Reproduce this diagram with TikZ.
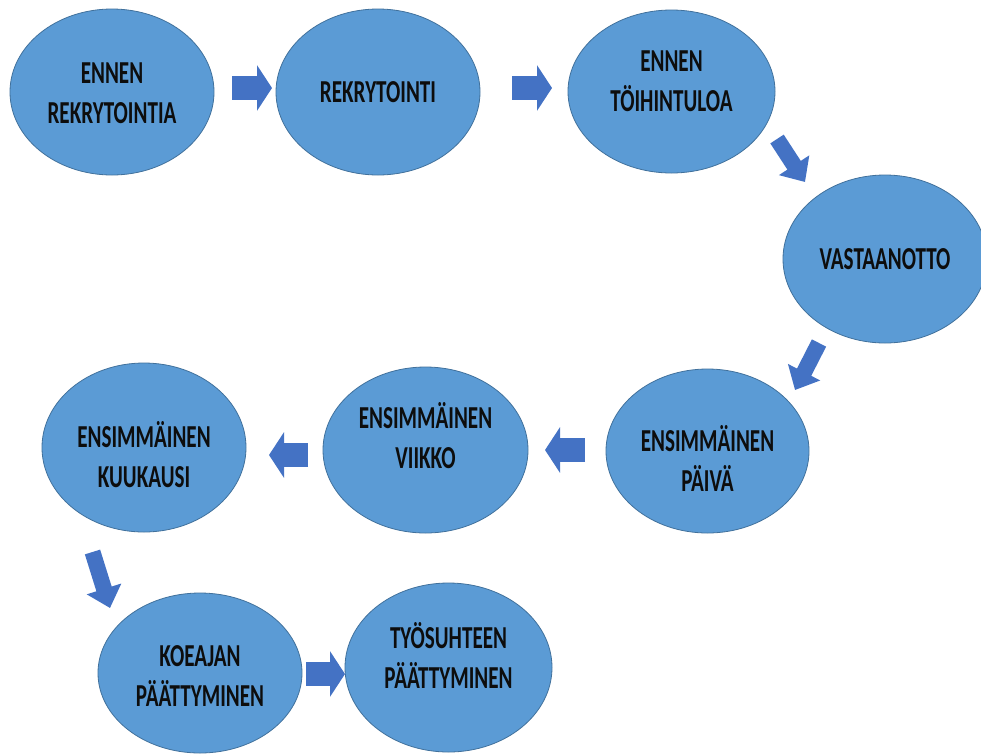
\documentclass[tikz,border=0pt]{standalone}
\usepackage{fontspec}
\newfontfamily\lblfont{Carlito}[FakeStretch=0.66]
\usetikzlibrary{shapes.geometric,arrows.meta}
\definecolor{bubfill}{HTML}{5B9BD5}
\definecolor{bubline}{HTML}{41719C}
\definecolor{arrfill}{HTML}{4472C4}
\begin{document}
\begin{tikzpicture}[x=1pt,y=-1pt,
  bub/.style={ellipse, draw=bubline, line width=0.8pt, fill=bubfill, inner sep=0pt},
  lbl/.style={font=\lblfont\bfseries\fontsize{32}{40}\selectfont, align=center, text=black!95, inner sep=0pt},
  blk/.style={draw=arrfill, line width=24pt, -{Triangle[length=15pt,width=45pt]}},
  blkd/.style={draw=arrfill, line width=16pt, -{Triangle[length=20pt,width=35pt]}}]
\fill[white] (0,0) rectangle (981,753);
\useasboundingbox (0,0) rectangle (981,753);
% ellipses
\node[bub, minimum width=204pt, minimum height=166pt] (e1) at (112,92) {};
\node[bub, minimum width=204pt, minimum height=166pt] (e2) at (378,92) {};
\node[bub, minimum width=207pt, minimum height=163pt] (e3) at (671.5,91.5) {};
\node[bub, minimum width=204pt, minimum height=168pt] (e4) at (885,259) {};
\node[bub, minimum width=203pt, minimum height=164pt] (e5) at (707.5,451) {};
\node[bub, minimum width=205pt, minimum height=166pt] (e6) at (425.5,450) {};
\node[bub, minimum width=204pt, minimum height=169pt] (e7) at (144,447.5) {};
\node[bub, minimum width=204pt, minimum height=160pt] (e8) at (200,673) {};
\node[bub, minimum width=207pt, minimum height=169pt] (e9) at (448.5,667.5) {};
% labels
\node[lbl] (t1) at ([yshift=-1pt]e1) {ENNEN\\REKRYTOINTIA};
\node[lbl] (t2) at (e2) {REKRYTOINTI};
\node[lbl] (t3) at ([yshift=10pt]e3) {ENNEN\\TÖIHINTULOA};
\node[lbl] (t4) at (e4) {VASTAANOTTO};
\node[lbl] (t5) at ([yshift=-7pt]e5) {ENSIMMÄINEN\\PÄIVÄ};
\node[lbl] (t6) at ([yshift=14pt]e6) {ENSIMMÄINEN\\VIIKKO};
\node[lbl] (t7) at ([yshift=-7pt]e7) {ENSIMMÄINEN\\KUUKAUSI};
\node[lbl] (t8) at ([yshift=-3pt]e8) {KOEAJAN\\PÄÄTTYMINEN};
\node[lbl] (t9) at ([yshift=12pt]e9) {TYÖSUHTEEN\\PÄÄTTYMINEN};
% arrow end points
\coordinate (a1s) at (232,88);   \coordinate (a1e) at (272,88);
\coordinate (a2s) at (512,88);   \coordinate (a2e) at (552,88);
\coordinate (a3s) at (777,139);  \coordinate (a3e) at (805,182);
\coordinate (a4s) at (819,343);  \coordinate (a4e) at (795,390);
\coordinate (a5s) at (585,450);  \coordinate (a5e) at (545,450);
\coordinate (a6s) at (308,455);  \coordinate (a6e) at (269,455);
\coordinate (a7s) at (92.5,552); \coordinate (a7e) at (110,608);
\coordinate (a8s) at (306,674);  \coordinate (a8e) at (345,674);
% block arrows
\draw[blk] (a1s) -- (a1e);
\draw[blk] (a2s) -- (a2e);
\draw[blkd] (a3s) -- (a3e);
\draw[blkd] (a4s) -- (a4e);
\draw[blk] (a5s) -- (a5e);
\draw[blk] (a6s) -- (a6e);
\draw[blkd] (a7s) -- (a7e);
\draw[blk] (a8s) -- (a8e);
\end{tikzpicture}
\end{document}
